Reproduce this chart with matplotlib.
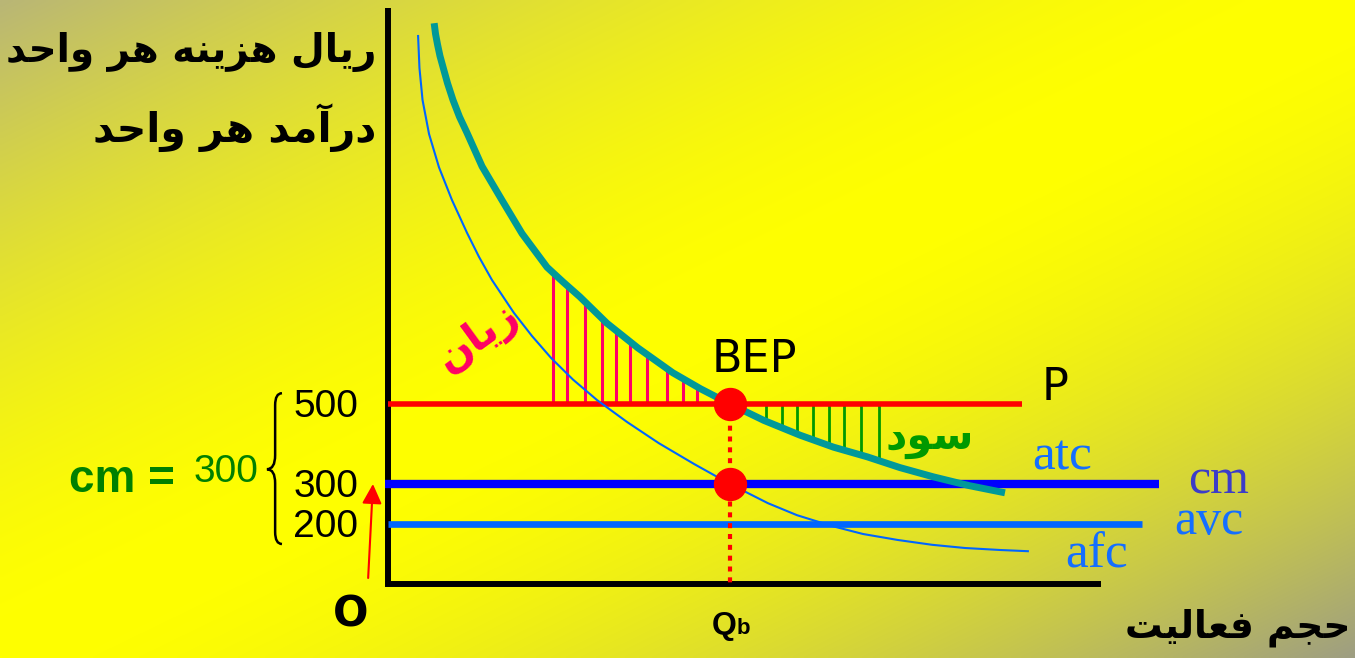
import matplotlib.pyplot as plt
import numpy as np
from matplotlib.path import Path
from matplotlib.patches import PathPatch

# نمودار نقطه سربه‌سر: هزینه و درآمد هر واحد در برابر حجم فعالیت

# ---- داده‌ها ----
price = 500          # P
cm_level = 300       # حاشیه فروش
avc_level = 200      # هزینه متغیر هر واحد
q_bep = 1000         # Qb
y_labels = [500, 300, 200]

atc_q = [135, 139, 145, 152, 161, 174, 190, 209, 231, 275, 333, 392, 465, 512,
         561, 640, 731, 833, 914, 1000, 1099, 1205, 1303, 1401, 1497, 1594, 1699, 1804]
atc_v = [1452, 1425, 1398, 1370, 1342, 1302, 1260, 1218, 1178, 1094, 1010, 926, 842, 805,
         768, 702, 640, 578, 538, 500, 459, 422, 392, 368, 341, 318, 296, 278]

afc_q = [88, 92, 101, 120, 149, 187, 231, 266, 304, 368, 421, 477, 541, 611,
         699, 792, 895, 1000, 1111, 1196, 1298, 1389, 1491, 1591, 1687, 1790, 1871]
afc_v = [1420, 1340, 1260, 1175, 1092, 1010, 928, 868, 810, 728, 670, 615, 561, 510,
         455, 402, 350, 300, 252, 222, 195, 175, 160, 148, 140, 135, 132]

loss_q = [482, 523, 576, 626, 667, 708, 757, 816, 863, 903]
profit_q = [1105, 1152, 1196, 1243, 1289, 1333, 1383, 1436]

p_end, cm_end, avc_end = 1855, 2255, 2205
x_axis_end, y_axis_top, base = 2075, 1490, 50


# حروف فارسی: (جدا، پایانی، آغازی، میانی)
FORMS = {
    '\u0627': ('\ufe8d', '\ufe8e', None, None),
    '\u0622': ('\ufe81', '\ufe82', None, None),
    '\u062f': ('\ufea9', '\ufeaa', None, None),
    '\u0631': ('\ufead', '\ufeae', None, None),
    '\u0632': ('\ufeaf', '\ufeb0', None, None),
    '\u0648': ('\ufeed', '\ufeee', None, None),
    '\u0644': ('\ufedd', '\ufede', '\ufedf', '\ufee0'),
    '\u0647': ('\ufee9', '\ufeea', '\ufeeb', '\ufeec'),
    '\u0646': ('\ufee5', '\ufee6', '\ufee7', '\ufee8'),
    '\u062d': ('\ufea1', '\ufea2', '\ufea3', '\ufea4'),
    '\u0645': ('\ufee1', '\ufee2', '\ufee3', '\ufee4'),
    '\u0633': ('\ufeb1', '\ufeb2', '\ufeb3', '\ufeb4'),
    '\u062c': ('\ufe9d', '\ufe9e', '\ufe9f', '\ufea0'),
    '\u0641': ('\ufed1', '\ufed2', '\ufed3', '\ufed4'),
    '\u0639': ('\ufec9', '\ufeca', '\ufecb', '\ufecc'),
    '\u062a': ('\ufe95', '\ufe96', '\ufe97', '\ufe98'),
    '\u06cc': ('\ufbfc', '\ufbfd', '\ufbfe', '\ufbff'),
}


def fa(s):
    """شکل‌دهی ساده حروف و برگرداندن ترتیب برای نمایش راست به چپ"""
    out = []
    for i, ch in enumerate(s):
        f = FORMS.get(ch)
        if f is None:
            out.append(ch)
            continue
        prev = FORMS.get(s[i - 1]) if i > 0 else None
        nxt = FORMS.get(s[i + 1]) if i + 1 < len(s) else None
        jp = prev is not None and prev[2] is not None
        jn = nxt is not None and f[2] is not None
        if jp and jn:
            out.append(f[3])
        elif jp:
            out.append(f[1])
        elif jn:
            out.append(f[2])
        else:
            out.append(f[0])
    return ''.join(reversed(out))


fig = plt.figure(figsize=(13.55, 6.58), dpi=100)
ax = fig.add_axes([0, 0, 1, 1])
xlim = (-1134.5, 2827.5)
ylim = (-135, 1510)

# پس‌زمینه زرد با گوشه‌های تیره
W, H = 400, 200
gx, gy = np.meshgrid(np.linspace(0, 1, W), np.linspace(0, 1, H))
t = (gx + gy) / 2
w = (np.abs(t - 0.5) * 2) ** 1.7
yellow = np.array([255, 255, 0]) / 255
tl = np.array([185, 182, 118]) / 255
br = np.array([158, 158, 130]) / 255
end = np.where((t < 0.5)[..., None], tl, br)
img = yellow * (1 - w[..., None]) + end * w[..., None]
ax.imshow(img, extent=(xlim[0], xlim[1], ylim[0], ylim[1]), aspect='auto',
          zorder=0, interpolation='bilinear')

# محورها
ax.plot([0, 0], [base, y_axis_top], color='black', lw=4.3, solid_capstyle='butt', zorder=3)
ax.plot([0, x_axis_end], [base, base], color='black', lw=4.3, solid_capstyle='projecting', zorder=3)

# هاشورهای زیان و سود
atc_loss = np.interp(loss_q, atc_q, atc_v)
ax.vlines(loss_q, price, atc_loss, color='#ff0066', lw=2.2, zorder=2)
atc_profit = np.interp(profit_q, atc_q, atc_v)
ax.vlines(profit_q, atc_profit, price, color='#009900', lw=2, zorder=2)

# خطوط افقی
ax.plot([0, p_end], [price, price], color='#ff0000', lw=4, solid_capstyle='butt', zorder=3)
ax.plot([-10, cm_end], [cm_level, cm_level], color='#0000ff', lw=6, solid_capstyle='butt', zorder=3)
ax.plot([0, avc_end], [avc_level, avc_level], color='#0066ff', lw=4.8, solid_capstyle='butt', zorder=3)

# منحنی‌ها
ax.plot(afc_q, afc_v, color='#0066ff', lw=1.5, zorder=3)
ax.plot(atc_q, atc_v, color='#009999', lw=5, solid_capstyle='butt',
        solid_joinstyle='round', zorder=4)

# نقطه سربه‌سر
ax.plot([q_bep, q_bep], [price, base], color='#ff0000', lw=3,
        linestyle=(0, (1.2, 1.4)), zorder=4)
ax.plot([q_bep, q_bep], [price, cm_level], 'o', color='#ff0000', ms=23, zorder=5)

# برچسب‌های محور عمودی
sans = ['Liberation Sans', 'DejaVu Sans']
for v in y_labels:
    ax.annotate(str(v), xy=(0, v), xytext=(-21.6, -9.4), textcoords='offset points',
                ha='right', va='baseline', fontsize=28, family=sans, zorder=6)

# آکولاد
brace = Path([(-310, 527), (-330, 527), (-330, 497),
              (-330, 372),
              (-330, 337), (-354, 337),
              (-330, 337), (-330, 302),
              (-330, 180),
              (-330, 150), (-310, 150)],
             [Path.MOVETO, Path.CURVE3, Path.CURVE3,
              Path.LINETO,
              Path.CURVE3, Path.CURVE3,
              Path.CURVE3, Path.CURVE3,
              Path.LINETO,
              Path.CURVE3, Path.CURVE3])
ax.add_patch(PathPatch(brace, fill=False, lw=1.8, edgecolor='black', zorder=6))

ax.text(-623, 280, 'cm =', color='#008000', fontsize=33, fontweight='bold',
        family=sans, ha='right', va='baseline', zorder=6)
ax.text(-570, 305, str(cm_level), color='#008000', fontsize=28, family=sans,
        ha='left', va='baseline', zorder=6)

# پیکان قرمز
ax.annotate('', xy=(-44, cm_level), xytext=(-58, 65),
            arrowprops=dict(arrowstyle='-|>', color='red', lw=1.5,
                            mutation_scale=30, shrinkA=0, shrinkB=0), zorder=6)

# متن‌ها
ax.text(947, 580, 'BEP', fontsize=32, ha='left', va='baseline', zorder=6)
ax.text(1912, 510, 'P', fontsize=32, ha='left', va='baseline', zorder=6)
ax.text(-108, -57, 'O', fontsize=30, fontweight='bold', ha='center', va='baseline', zorder=6)
ax.text(1020, -75, 'Q', fontsize=23, fontweight='bold', family=sans,
        ha='right', va='baseline', zorder=6)
ax.text(1020, -75, 'b', fontsize=16, fontweight='bold', family=sans,
        ha='left', va='baseline', zorder=6)

serif = ['Liberation Serif', 'DejaVu Serif']
ax.text(1883, 337, 'atc', color='#146eff', fontsize=37, family=serif, va='baseline', zorder=6)
ax.text(2339, 277, 'cm', color='#3c3cc8', fontsize=36, family=serif, va='baseline', zorder=6)
ax.text(2298, 175, 'avc', color='#146eff', fontsize=36, family=serif, va='baseline', zorder=6)
ax.text(1980, 90, 'afc', color='#146eff', fontsize=37, family=serif, va='baseline', zorder=6)

ax.text(-35, 1380, fa('ریال هزینه هر واحد'), fontsize=28, fontweight='bold',
        ha='right', va='center', zorder=6)
ax.text(-35, 1190, fa('درآمد هر واحد'), fontsize=29.5, fontweight='bold',
        ha='right', va='center', zorder=6)
ax.text(2813, -60, fa('حجم فعالیت'), fontsize=27, fontweight='bold',
        ha='right', va='center', zorder=6)
ax.text(1585, 415, fa('سود'), color='#009900', fontsize=30, fontweight='bold',
        ha='center', va='center', zorder=6)
ax.text(263, 667, fa('زیان'), color='#ff0066', fontsize=30, fontweight='bold',
        ha='center', va='center', rotation=36, zorder=6)

ax.set_xlim(*xlim)
ax.set_ylim(*ylim)
ax.axis('off')

fig.savefig('out.png', dpi=100)
